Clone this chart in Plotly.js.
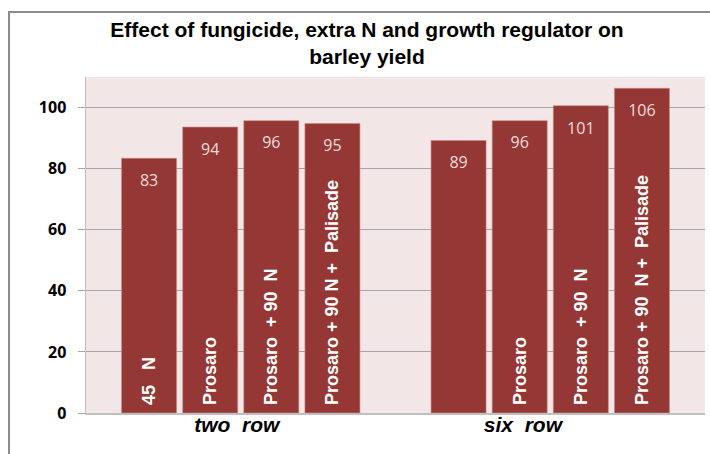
<!DOCTYPE html>
<html>
<head>
<meta charset="utf-8">
<script src="https://cdn.plot.ly/plotly-3.0.1.min.js"></script>
<style>html,body{margin:0;padding:0;background:#fff;}#chart{width:710px;height:454px;}</style>
</head>
<body>
<div id="chart"></div>
<script>
// ---- data ----
const categories = ['two row', 'six row'];
const categoryLabels = ['two\u00a0\u00a0row', 'six\u00a0\u00a0row\u00a0\u00a0\u00a0\u00a0\u00a0\u00a0\u00a0\u00a0'];
const seriesNames = ['45 N', 'Prosaro', 'Prosaro + 90 N', 'Prosaro + 90 N + Palisade'];
const yield45N = [83.4, 89.2];
const yieldProsaro = [93.6, 95.7];
const yieldProsaro90N = [95.7, 100.6];
const yieldPalisade = [94.8, 106.3];
const label45N = ['\u00a045\u00a0\u00a0\u00a0N', ''];
const labelProsaro = ['\u00a0Prosaro', '\u00a0Prosaro'];
const labelProsaro90N = ['\u00a0Prosaro\u00a0\u00a0+\u00a090\u00a0\u00a0N', '\u00a0Prosaro\u00a0\u00a0+\u00a090\u00a0\u00a0N'];
const labelPalisade = ['\u00a0Prosaro\u00a0+\u00a090\u00a0N\u00a0+\u00a0\u00a0Palisade', '\u00a0Prosaro\u00a0+\u00a090\u00a0\u00a0N\u00a0+\u00a0\u00a0Palisade'];
const yTicks = [0, 20, 40, 60, 80, 100];

const seriesValues = [yield45N, yieldProsaro, yieldProsaro90N, yieldPalisade];
const seriesLabels = [label45N, labelProsaro, labelProsaro90N, labelPalisade];

const barColor = '#953735';
const traces = [];
seriesValues.forEach((vals, i) => {
  traces.push({
    type: 'bar', x: categories, y: vals, name: seriesNames[i],
    offsetgroup: String(i),
    marker: {color: barColor, line: {color: '#c98a89', width: 0.6}},
    texttemplate: '<span style="font-size:4px">\u00a0</span><br>%{y:.0f}',
    textposition: 'inside', insidetextanchor: 'end',
    textangle: 0, constraintext: 'none',
    textfont: {family: 'Open Sans, Noto Sans, sans-serif', size: 16, color: '#f2dcdb'},
    hoverinfo: 'skip', showlegend: false
  });
});
seriesValues.forEach((vals, i) => {
  traces.push({
    type: 'bar', x: categories, y: vals, name: seriesNames[i] + ' label',
    offsetgroup: String(i),
    marker: {color: 'rgba(0,0,0,0)'},
    text: seriesLabels[i], textposition: 'inside', insidetextanchor: 'start',
    textangle: -90, constraintext: 'none',
    textfont: {family: 'Liberation Sans Narrow, Arial Narrow, Liberation Sans, sans-serif', size: 18, color: '#ffffff', weight: 'bold'},
    hoverinfo: 'skip', showlegend: false
  });
});

const L = 86, R = 5, T = 77, B = 41, W = 710, H = 454;
const pw = W - L - R, ph = H - T - B;
const px = v => (v - L) / pw;
const py = v => (H - B - v) / ph;

const layout = {
  width: W, height: H,
  margin: {l: L, r: R, t: T, b: B, pad: 0},
  paper_bgcolor: '#ffffff',
  plot_bgcolor: '#f2e6e6',
  barmode: 'group', bargap: 0.21, bargroupgap: 0.1,
  title: {
    text: '<b>Effect of fungicide, extra N and growth regulator on<br>barley yield</b>',
    font: {family: 'Liberation Sans, Arial, sans-serif', size: 21, color: '#000000'},
    x: px(367), xref: 'paper', xanchor: 'center',
    y: 1 - 37 / H, yref: 'container', yanchor: 'top'
  },
  xaxis: {
    type: 'category',
    tickvals: categories, ticktext: categoryLabels,
    showline: true, linecolor: '#bfbfbf', linewidth: 2,
    ticks: '', showgrid: false, ticklabelstandoff: -8, ticklabelshift: -4,
    tickfont: {family: 'Liberation Sans, Arial, sans-serif', size: 21, color: '#000000', weight: 'bold', style: 'italic'}
  },
  yaxis: {
    range: [0, 110], tickvals: yTicks, ticktext: yTicks.map(String),
    showgrid: true, gridcolor: '#a6a6a6', gridwidth: 1,
    showline: true, linecolor: '#bfbfbf', linewidth: 1.5,
    ticks: 'outside', ticklen: 7, tickcolor: '#a6a6a6',
    ticklabelstandoff: 8, zeroline: false,
    tickfont: {family: 'Open Sans, Noto Sans, sans-serif', size: 16, color: '#000000', weight: 'bold'}
  },
  shapes: [{
    type: 'path', xref: 'paper', yref: 'paper', layer: 'above',
    path: `M ${px(9)},${py(460)} L ${px(9)},${py(12)} L ${px(712)},${py(12)}`,
    line: {color: '#8c8c8c', width: 2}
  }]
};

Plotly.newPlot('chart', traces, layout, {displayModeBar: false, staticPlot: true});
</script>
</body>
</html>
